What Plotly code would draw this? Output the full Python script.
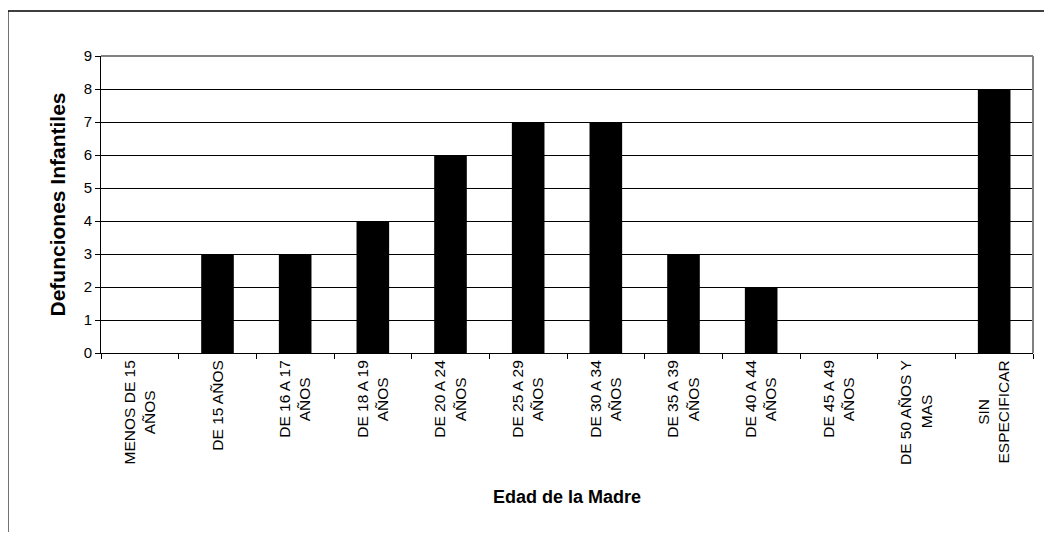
import plotly.graph_objects as go

cat_lines = [["MENOS DE 15", "AÑOS"], ["DE 15 AÑOS"], ["DE 16 A 17", "AÑOS"], ["DE 18 A 19", "AÑOS"],
             ["DE 20 A 24", "AÑOS"], ["DE 25 A 29", "AÑOS"], ["DE 30 A 34", "AÑOS"], ["DE 35 A 39", "AÑOS"],
             ["DE 40 A 44", "AÑOS"], ["DE 45 A 49", "AÑOS"], ["DE 50 AÑOS Y", "MAS"], ["SIN", "ESPECIFICAR"]]
values = [0, 3, 3, 4, 6, 7, 7, 3, 2, 0, 0, 8]
y_ticks = list(range(0, 10))

FONT = "Liberation Sans, Arial, sans-serif"

# approximate Arial advance widths (per 1000 em) used to centre the two label lines
W = {"A": 667, "Ñ": 722, "N": 722, "O": 778, "S": 667, "M": 833, "E": 667, "D": 722, "Y": 667,
     "P": 667, "C": 722, "I": 278, "F": 611, "R": 722, " ": 278}


def tw(s):
    return sum(W.get(c, 556) for c in s)


def centred(lines):
    if len(lines) == 1:
        return lines[0]
    longest = max(tw(l) for l in lines)
    out = []
    for l in lines:
        pad = int(round((longest - tw(l)) / 2 / 278))
        out.append(l + "\u00a0" * pad)
    return "<br>".join(out)


categories = [centred(c) for c in cat_lines]

fig = go.Figure()
fig.add_trace(go.Bar(x=categories, y=values, marker=dict(color="black", line=dict(width=0)),
                     width=0.42))

fig.update_layout(
    width=1036, height=524,
    margin=dict(l=93, r=11, t=48, b=179),
    paper_bgcolor="white", plot_bgcolor="white",
    showlegend=False,
    font=dict(family=FONT, color="black", size=15),
)
fig.update_xaxes(
    type="category", tickangle=-90, ticks="outside", ticklen=5, tickcolor="black",
    tickson="boundaries", showline=True, linecolor="black", linewidth=1,
    showgrid=False, mirror=False,
    tickfont=dict(family=FONT, size=15.5, color="black"),
    title=dict(text="<b>Edad de la Madre</b>", font=dict(family=FONT, size=18, color="black"), standoff=26),
)
fig.update_yaxes(
    range=[0, 9], tickvals=y_ticks, ticks="outside", ticklen=5, tickcolor="black",
    showline=True, linecolor="black", linewidth=1,
    showgrid=True, gridcolor="black", gridwidth=1, zeroline=False,
    tickfont=dict(family=FONT, size=15, color="black"),
    title=dict(text="<b>Defunciones Infantiles</b>", font=dict(family=FONT, size=21, color="black"), standoff=12),
)
# grey plot-area border (top and right)
fig.add_shape(type="line", xref="paper", yref="paper", x0=0, x1=1, y0=1, y1=1,
              line=dict(color="#808080", width=2))
fig.add_shape(type="line", xref="paper", yref="paper", x0=1, x1=1, y0=0, y1=1,
              line=dict(color="#808080", width=2))
# outer chart frame
fig.add_shape(type="rect", xref="paper", yref="paper", x0=-0.1, x1=1.2, y0=-1.0, y1=1.1515,
              line=dict(color="black", width=1.5), fillcolor="rgba(0,0,0,0)", layer="below")

fig.write_html("out.html")
